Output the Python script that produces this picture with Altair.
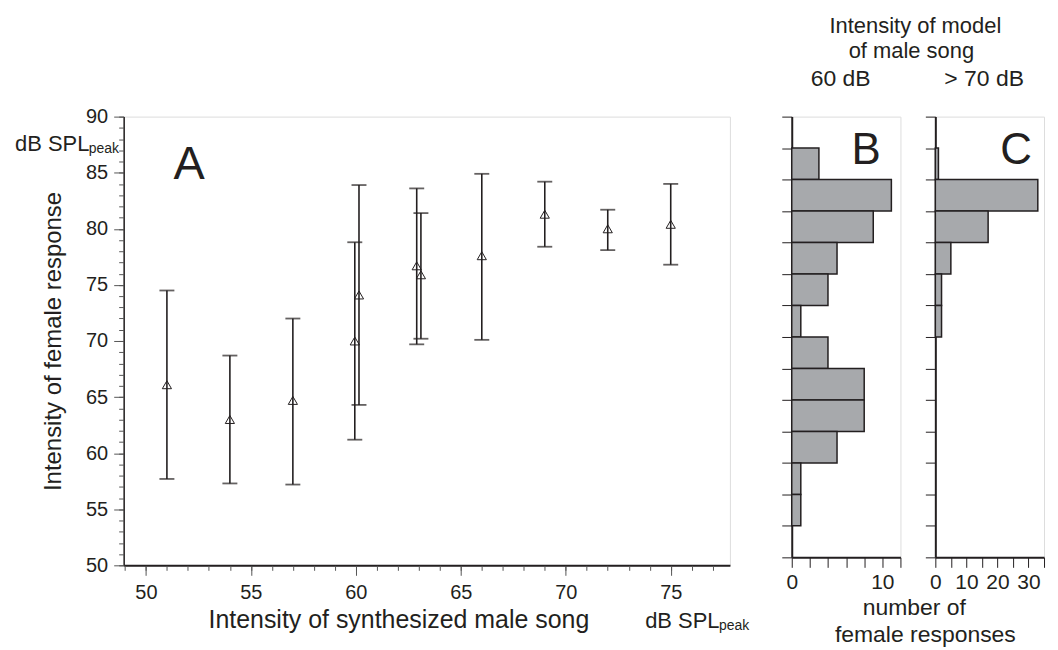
import altair as alt
import pandas as pd

# ---------------- data ----------------
# Panel A: synthesized male song intensity vs female response (mean, range)
song_db = [51, 54, 57, 59.95, 60.15, 62.9, 63.1, 66, 69, 72, 75]
resp_mean = [66.1, 63.0, 64.7, 70.0, 74.1, 76.7, 75.9, 77.6, 81.3, 80.0, 80.4]
resp_low = [57.7, 57.3, 57.2, 61.2, 64.3, 69.7, 70.2, 70.1, 78.4, 78.1, 76.8]
resp_high = [74.5, 68.7, 72.0, 78.8, 83.9, 83.6, 81.4, 84.9, 84.2, 81.7, 84.0]

# Panels B and C: histogram bins (index from top) and counts
hist_bins = list(range(14))
counts_60db = [0, 3, 11, 9, 5, 4, 1, 4, 8, 8, 5, 1, 1, 0]
counts_70db = [0, 1, 33, 17, 5, 2, 2, 0, 0, 0, 0, 0, 0, 0]

# ticks
x_major_ticks = [50, 55, 60, 65, 70, 75]
x_minor_ticks = list(range(49, 78))
y_major_ticks = [50, 55, 60, 65, 70, 75, 80, 85, 90]
y_minor_ticks = list(range(50, 91))
b_count_ticks = [0, 2, 4, 6, 8, 10, 12]
b_count_labels = [0, 10]
c_count_ticks = [0, 5, 10, 15, 20, 25, 30, 35]
c_count_labels = [0, 10, 20, 30]
bin_edge_ticks = list(range(15))

# texts
y_title = "Intensity of female response"
x_title = "Intensity of synthesized male song"
unit_main = "dB SPL"
unit_sub = "peak"
header_lines = ["Intensity of model", "of male song"]
cond_b = "60 dB"
cond_c = "> 70 dB"
count_lines = ["number of", "female responses"]
panel_letters = ["A", "B", "C"]

FONT = "Liberation Sans"
INK = "#231f20"
BAR_FILL = "#a7a9ac"


def note(txt, x, y, size, align="center"):
    return alt.Chart(pd.DataFrame({"t": [txt]})).mark_text(
        font=FONT, fontSize=size, color=INK, align=align, baseline="alphabetic"
    ).encode(x=alt.value(x), y=alt.value(y), text="t:N")


# ---------------- Panel A ----------------
dfA = pd.DataFrame({"x": song_db, "m": resp_mean, "lo": resp_low, "hi": resp_high})
xs = alt.Scale(domain=[48.94, 77.82], nice=False, zero=False)
ys = alt.Scale(domain=[50, 90], nice=False, zero=False)

ax_x_major = alt.Axis(orient="bottom", values=x_major_ticks, tickSize=10, tickColor="#555555",
                      tickWidth=1, labelFont=FONT, labelFontSize=20, labelColor=INK,
                      labelPadding=7, labelFlush=False, labelOverlap=False,
                      domain=True, domainColor=INK, domainWidth=2, grid=False, title=None)
ax_x_minor = alt.Axis(orient="bottom", values=x_minor_ticks, tickSize=5, tickColor="#555555",
                      tickWidth=1, labels=False, domain=False, grid=False, title=None)
ax_y_major = alt.Axis(orient="left", values=y_major_ticks, tickSize=10, tickColor="#555555",
                      tickWidth=1, labelFont=FONT, labelFontSize=20, labelColor=INK,
                      labelPadding=6, labelOverlap=False, domain=True, domainColor=INK,
                      domainWidth=1.5, grid=False, title=y_title, titleFont=FONT,
                      titleFontSize=24, titleFontWeight="normal", titleColor=INK,
                      titlePadding=20)
ax_y_minor = alt.Axis(orient="left", values=y_minor_ticks, tickSize=5, tickColor="#555555",
                      tickWidth=1, labels=False, domain=False, grid=False, title=None)

rules = alt.Chart(dfA).mark_rule(color=INK, strokeWidth=1.6).encode(
    x=alt.X("x:Q", scale=xs, axis=ax_x_major),
    y=alt.Y("lo:Q", scale=ys, axis=ax_y_major),
    y2="hi:Q",
)
minor = alt.Chart(dfA).mark_point(opacity=0).encode(
    x=alt.X("x:Q", scale=xs, axis=ax_x_minor),
    y=alt.Y("m:Q", scale=ys, axis=ax_y_minor),
)
cap_lo = alt.Chart(dfA).mark_tick(orient="horizontal", size=15, thickness=1.8, color=INK).encode(
    x=alt.X("x:Q", scale=xs, axis=None), y=alt.Y("lo:Q", scale=ys, axis=None))
cap_hi = alt.Chart(dfA).mark_tick(orient="horizontal", size=15, thickness=1.8, color=INK).encode(
    x=alt.X("x:Q", scale=xs, axis=None), y=alt.Y("hi:Q", scale=ys, axis=None))
pts = alt.Chart(dfA).mark_point(shape="triangle-up", filled=False, size=85, color=INK,
                                strokeWidth=1, opacity=1).encode(
    x=alt.X("x:Q", scale=xs, axis=None), y=alt.Y("m:Q", scale=ys, axis=None))

panelA = alt.layer(
    rules, minor, cap_lo, cap_hi, pts,
    note(panel_letters[0], 50, 63, 47, "left"),
    note(unit_main, -109, 34, 22, "left"),
    note(unit_sub, -35, 36, 14, "left"),
    note(x_title, 276, 513, 25),
    note(unit_main, 523, 513, 22, "left"),
    note(unit_sub, 597, 515, 14, "left"),
).resolve_axis(x="independent", y="independent").properties(width=608, height=450)


# ---------------- Panels B and C ----------------
def hist_panel(counts, dom_max, ticks, labels_shown, letter, cond, extra):
    df = pd.DataFrame({"bin": hist_bins, "bin_end": [b + 1 for b in hist_bins], "n": counts})
    df = df[df["n"] > 0]
    xsc = alt.Scale(domain=[0, dom_max], nice=False, zero=False)
    ysc = alt.Scale(domain=[0, 14], reverse=True, nice=False, zero=False)
    ax_x = alt.Axis(orient="bottom", values=ticks, tickSize=10, tickColor=INK, tickWidth=1,
                    labelExpr=f"indexof({labels_shown}, datum.value) >= 0 ? datum.label : ''",
                    labelFont=FONT, labelFontSize=21, labelColor=INK, labelPadding=4,
                    labelFlush=False, labelOverlap=False, domain=True, domainColor=INK,
                    domainWidth=2, grid=False, title=None)
    ax_y = alt.Axis(orient="left", values=bin_edge_ticks, tickSize=10, tickColor=INK,
                    tickWidth=1, labels=False, domain=True, domainColor=INK, domainWidth=2,
                    grid=False, title=None)
    bars = alt.Chart(df).mark_bar(fill=BAR_FILL, stroke=INK, strokeWidth=1.5).encode(
        x=alt.X("n:Q", scale=xsc, axis=ax_x),
        x2=alt.datum(0),
        y=alt.Y("bin:Q", scale=ysc, axis=ax_y),
        y2="bin_end:Q",
    )
    return alt.layer(bars, note(letter[0], letter[1], 48, 44, "left"),
                     note(cond, 49, -31, 23), *extra).properties(width=109, height=442)


panelB = hist_panel(
    counts_60db, 12, b_count_ticks, b_count_labels, (panel_letters[1], 60), cond_b,
    [note(header_lines[0], 124, -84, 22), note(header_lines[1], 120, -59, 22),
     note(count_lines[0], 123, 500, 23), note(count_lines[1], 134, 527, 23)],
)
panelC = hist_panel(counts_70db, 35, c_count_ticks, c_count_labels,
                    (panel_letters[2], 65), cond_c, [])

right = alt.hconcat(panelB, panelC, spacing=35, bounds="flush")
chart = alt.hconcat(panelA, right, spacing=62, bounds="flush").properties(
    padding={"left": 6, "top": 5, "right": 5, "bottom": 5}
).configure_view(stroke=INK, strokeWidth=1.5).configure(background="white")

chart.save("out.html", embed_options={"renderer": "svg", "actions": False})
